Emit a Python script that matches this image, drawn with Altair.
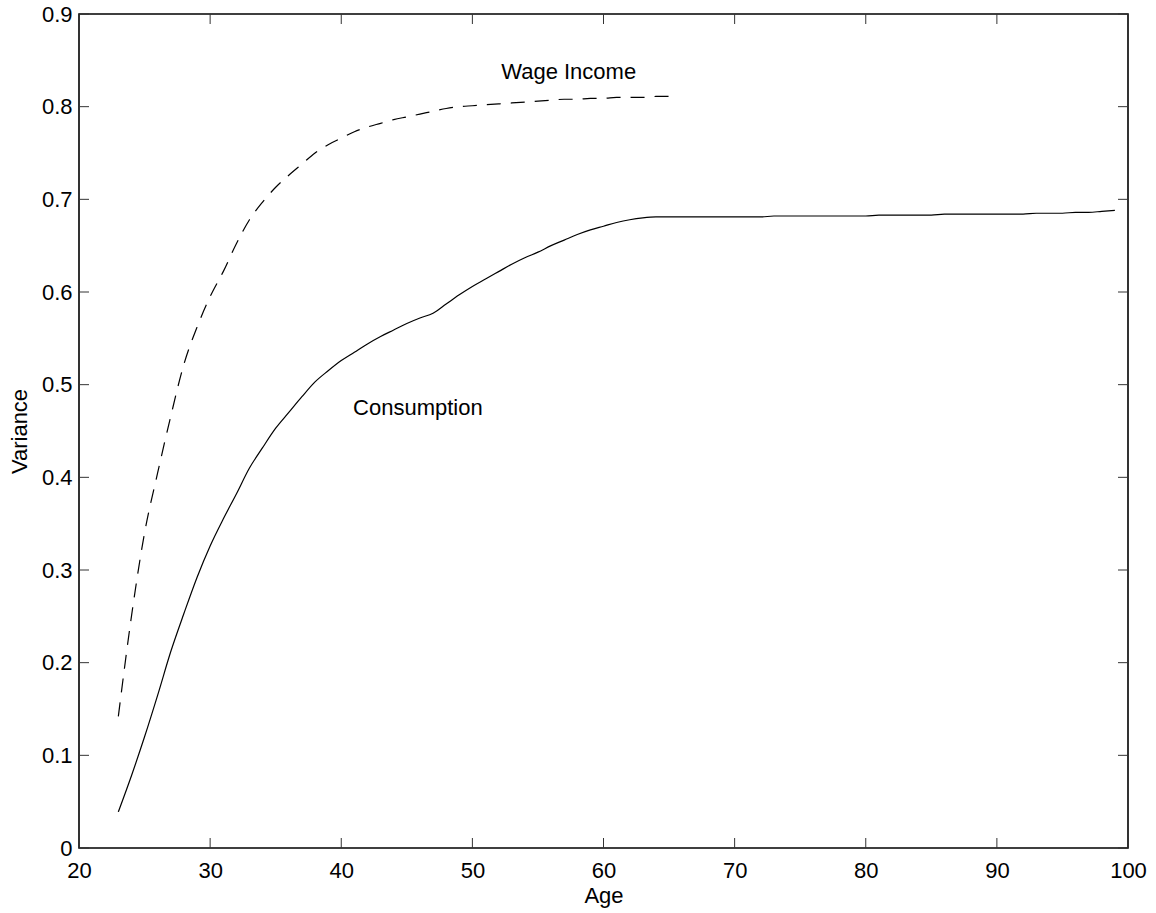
import altair as alt
import pandas as pd

# ---- data ----
cons_age = list(range(23, 100))
cons_var = [
    0.039, 0.078, 0.120, 0.165, 0.212, 0.253, 0.292, 0.326, 0.355, 0.382,   # 23-32
    0.410, 0.432, 0.453, 0.470, 0.487, 0.503, 0.515, 0.526, 0.535, 0.544,   # 33-42
    0.552, 0.559, 0.566, 0.572, 0.577, 0.587, 0.597, 0.606, 0.614, 0.622,   # 43-52
    0.630, 0.637, 0.643, 0.650, 0.656, 0.662, 0.667, 0.671, 0.675, 0.678,   # 53-62
    0.680, 0.681, 0.681, 0.681, 0.681, 0.681, 0.681, 0.681, 0.681, 0.681,   # 63-72
    0.682, 0.682, 0.682, 0.682, 0.682, 0.682, 0.682, 0.682, 0.683, 0.683,   # 73-82
    0.683, 0.683, 0.683, 0.684, 0.684, 0.684, 0.684, 0.684, 0.684, 0.684,   # 83-92
    0.685, 0.685, 0.685, 0.686, 0.686, 0.687, 0.688,                        # 93-99
]
wage_age = list(range(23, 66))
wage_var = [
    0.142, 0.250, 0.340, 0.405, 0.466, 0.522, 0.562, 0.595, 0.622, 0.652,   # 23-32
    0.678, 0.697, 0.713, 0.726, 0.738, 0.750, 0.759, 0.766, 0.773, 0.778,   # 33-42
    0.782, 0.786, 0.789, 0.792, 0.795, 0.798, 0.800, 0.801, 0.802, 0.803,   # 43-52
    0.804, 0.805, 0.806, 0.807, 0.808, 0.808, 0.809, 0.809, 0.810, 0.810,   # 53-62
    0.810, 0.811, 0.811,                                                    # 63-65
]
x_ticks = [20, 30, 40, 50, 60, 70, 80, 90, 100]
y_ticks = [0, 0.1, 0.2, 0.3, 0.4, 0.5, 0.6, 0.7, 0.8, 0.9]
label_text = ["Wage Income", "Consumption"]
label_age = [52.2, 40.9]
label_var = [0.837, 0.475]

W, H = 1049, 834
FONT = "Liberation Sans"
FS = 22
TICK = 10

cons_df = pd.DataFrame({"age": cons_age, "var": cons_var})
wage_df = pd.DataFrame({"age": wage_age, "var": wage_var})
xt_df = pd.DataFrame({"age": x_ticks})
yt_df = pd.DataFrame({"var": y_ticks})
lab_df = pd.DataFrame({"age": label_age, "var": label_var, "text": label_text})

xscale = alt.Scale(domain=[20, 100], nice=False, zero=False)
yscale = alt.Scale(domain=[0, 0.9], nice=False, zero=False)

xaxis = alt.Axis(values=x_ticks, title="Age", ticks=False, tickSize=0, domain=False,
                 grid=False, labelPadding=12, labelFontSize=FS, labelFont=FONT,
                 labelColor="black", titleFont=FONT, titleFontSize=FS,
                 titleFontWeight="normal", titleColor="black", titlePadding=4,
                 labelFlush=False)
yaxis = alt.Axis(values=y_ticks, title="Variance", ticks=False, tickSize=0, domain=False,
                 grid=False, labelPadding=7, labelFontSize=FS, labelFont=FONT,
                 labelColor="black", titleFont=FONT, titleFontSize=FS,
                 titleFontWeight="normal", titleColor="black", titlePadding=10,
                 labelFlush=False, format=".1~f")

X = alt.X("age:Q", scale=xscale, axis=xaxis)
Y = alt.Y("var:Q", scale=yscale, axis=yaxis)

cons = alt.Chart(cons_df).mark_line(color="black", strokeWidth=1.2,
                                    interpolate="monotone").encode(x=X, y=Y)
wage = alt.Chart(wage_df).mark_line(color="black", strokeWidth=1.2, strokeDash=[14, 10],
                                    interpolate="monotone").encode(x=X, y=Y)

bottom_ticks = alt.Chart(xt_df).mark_rule(color="#333333", strokeWidth=1).encode(
    x=X, y=alt.value(H), y2=alt.value(H - TICK),
)
top_ticks = alt.Chart(xt_df).mark_rule(color="#333333", strokeWidth=1).encode(
    x=X, y=alt.value(0), y2=alt.value(TICK),
)
left_ticks = alt.Chart(yt_df).mark_rule(color="#333333", strokeWidth=1).encode(
    y=Y, x=alt.value(0), x2=alt.value(TICK),
)
right_ticks = alt.Chart(yt_df).mark_rule(color="#333333", strokeWidth=1).encode(
    y=Y, x=alt.value(W), x2=alt.value(W - TICK),
)

labels = alt.Chart(lab_df).mark_text(align="left", baseline="middle", font=FONT,
                                     fontSize=FS, color="black").encode(
    x=X, y=Y, text="text:N",
)

chart = alt.layer(cons, wage, bottom_ticks, top_ticks, left_ticks, right_ticks, labels).properties(
    width=W, height=H,
    autosize=alt.AutoSizeParams(type="none"),
    padding={"left": 79, "top": 14, "right": 28, "bottom": 65},
    background="white",
).configure_view(stroke="black", strokeWidth=1.6)

chart.save("out.html", embed_options={"renderer": "svg", "actions": False})
